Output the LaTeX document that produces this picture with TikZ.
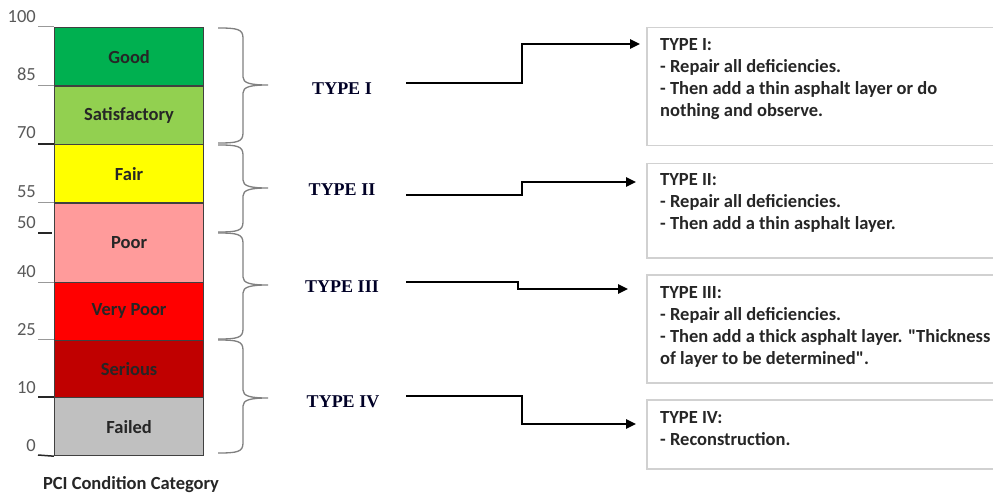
\documentclass[tikz,border=0pt]{standalone}
\usepackage{fontspec}
\setmainfont{Carlito}[Ligatures=TeXOff]
\newfontfamily\serifbold{Liberation Serif}
\usetikzlibrary{arrows.meta,calc}

\definecolor{cgood}{HTML}{00B050}
\definecolor{csat}{HTML}{92D050}
\definecolor{cfair}{HTML}{FFFF00}
\definecolor{cpoor}{HTML}{FF9B9B}
\definecolor{cvpoor}{HTML}{FF0000}
\definecolor{cser}{HTML}{C00000}
\definecolor{cfail}{HTML}{C0C0C0}

% curly brace: top end, tip, bottom end (y values)
\newcommand\pcibrace[3]{%
  \draw[brc] (218,#1) .. controls (237,#1) and (243,#1+1) .. (243,#1+10)
    -- (243,#2-8) .. controls (243,#2-2) and (250,#2) .. (268,#2)
    .. controls (250,#2) and (243,#2+2) .. (243,#2+8)
    -- (243,#3-10) .. controls (243,#3-1) and (237,#3) .. (218,#3);}

\begin{document}
\begin{tikzpicture}[x=1pt,y=-1pt,
  band/.style={draw=black!75, line width=1.2pt, minimum width=149pt,
    inner sep=0pt, anchor=north west,
    font=\fontsize{18.5}{20}\selectfont\bfseries, text=black!85},
  tick/.style={draw=black!40, line width=1pt},
  tickdark/.style={draw=black!85, line width=1.5pt},
  ticknum/.style={anchor=base east, inner sep=0pt,
    font=\fontsize{18.5}{20}\selectfont, text=black!65},
  brc/.style={draw=black!50, line width=1.3pt},
  typelbl/.style={font=\fontsize{18}{20}\selectfont\serifbold\bfseries,
    text=black!85!blue},
  conn/.style={draw=black, line width=2.4pt,
    -{Triangle[length=10pt,width=9pt]}},
  advice/.style={draw=black!18, line width=1.5pt, minimum width=360pt,
    anchor=north west, inner sep=0pt},
  advtext/.style={anchor=north west, align=left, inner sep=0pt,
    font=\fontsize{18.5}{22}\selectfont\bfseries, text=black!85}
]
\clip (0,0) rectangle (993,497);
\fill[white] (0,0) rectangle (993,497);

% condition bands
\node[band, fill=cgood,  minimum height=58.5pt] (good)  at (54,27)    {Good};
\node[band, fill=csat,   minimum height=58.5pt] (sat)   at (54,85.5)  {Satisfactory};
\node[band, fill=cfair,  minimum height=58.5pt] (fair)  at (54,144)   {Fair};
\node[band, fill=cpoor,  minimum height=79.5pt] (poor)  at (54,202.5) {Poor};
\node[band, fill=cvpoor, minimum height=57.5pt] (vpoor) at (54,282)   {Very Poor};
\node[band, fill=cser,   minimum height=57.5pt] (ser)   at (54,339.5) {Serious};
\node[band, fill=cfail,  minimum height=58pt]   (fail)  at (54,397)   {Failed};

% scale ticks and values
\draw[tick] (38,27) -- (good.north west);
\draw[tick] (38,85.5) -- (sat.north west);
\draw[tickdark] (38,144) -- (fair.north west);
\draw[tick] (38,202.5) -- (poor.north west);
\draw[tickdark] (38,233) -- (52,233);
\draw[tick] (38,282) -- (vpoor.north west);
\draw[tick] (38,339.5) -- (ser.north west);
\draw[tickdark] (38,397) -- (fail.north west);
\draw[tickdark] (38,455) -- (fail.south west);

\node[ticknum] (n100) at (36,23)  {100};
\node[ticknum] (n85)  at (36,81)  {85};
\node[ticknum] (n70)  at (36,139) {70};
\node[ticknum] (n55)  at (36,198) {55};
\node[ticknum] (n50)  at (36,229) {50};
\node[ticknum] (n40)  at (36,277) {40};
\node[ticknum] (n25)  at (36,335) {25};
\node[ticknum] (n10)  at (36,393) {10};
\node[ticknum] (n0)   at (36,451) {0};

\node[font=\fontsize{18.5}{20}\selectfont\bfseries, text=black!85] (cap) at (131,485) {PCI Condition Category};

% braces grouping the bands
\pcibrace{28}{85}{143}
\pcibrace{145}{188}{232}
\pcibrace{233}{285}{339}
\pcibrace{340}{398}{453}

% treatment types
\node[typelbl] (ty1) at (342,89)  {TYPE I};
\node[typelbl] (ty2) at (342,190) {TYPE II};
\node[typelbl] (ty3) at (342,287) {TYPE III};
\node[typelbl] (ty4) at (343,402) {TYPE IV};

% advice boxes
\node[advice, minimum height=118pt] (b1) at (646,27)  {};
\node[advice, minimum height=94pt]  (b2) at (646,163) {};
\node[advice, minimum height=108pt] (b3) at (646,274) {};
\node[advice, minimum height=69pt]  (b4) at (646,399) {};

\node[advtext] (t1) at ($(b1.north west)+(14,11)$)
  {TYPE I:\\- Repair all deficiencies.\\- Then add a thin asphalt layer or do\\nothing and observe.};
\node[advtext] (t2) at ($(b2.north west)+(14,10)$)
  {TYPE II:\\- Repair all deficiencies.\\- Then add a thin asphalt layer.};
\node[advtext] (t3) at ($(b3.north west)+(14,12)$)
  {TYPE III:\\- Repair all deficiencies.\\- Then add a thick asphalt layer. "Thickness\\of layer to be determined".};
\node[advtext] (t4) at ($(b4.north west)+(14,12)$)
  {TYPE IV:\\- Reconstruction.};

% connectors
\coordinate (s1) at (406,83);
\coordinate (s2) at (406,195);
\coordinate (s3) at (406,282);
\coordinate (s4) at (406,396);
\draw[conn] (s1) -- ++(116,0) |- ($(b1.north west)+(-6,17)$);
\draw[conn] (s2) -- ++(116,0) |- ($(b2.north west)+(-10,19)$);
\draw[conn] (s3) -- ++(112,0) |- ($(b3.north west)+(-18,15)$);
\draw[conn] (s4) -- ++(116,0) |- ($(b4.north west)+(-10,25)$);
\end{tikzpicture}
\end{document}
